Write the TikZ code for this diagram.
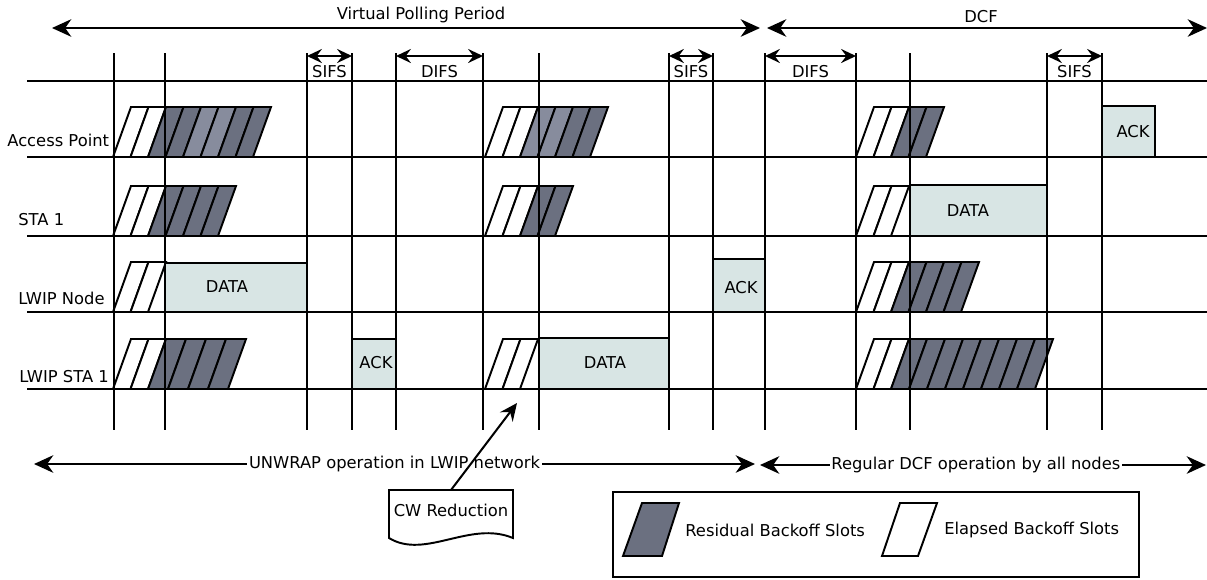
\documentclass[tikz,border=0pt]{standalone}
\usepackage{fontspec}
\setmainfont{DejaVu Sans}
\usetikzlibrary{arrows.meta}
\definecolor{resdark}{HTML}{6B7080}
\definecolor{reslight}{HTML}{878C9D}
\definecolor{pktfill}{HTML}{D8E5E4}

\tikzset{
  gridline/.style={line width=1.15pt},
  slot/.style={draw, line width=1.1pt, line join=miter},
  pkt/.style={draw, line width=1.15pt, fill=pktfill},
  period/.style={line width=1.15pt,
    {Stealth[length=11pt,width=10pt,inset=3.5pt]}-{Stealth[length=11pt,width=10pt,inset=3.5pt]}},
  gap/.style={line width=1.15pt,
    {Stealth[length=8.5pt,width=8pt,inset=3pt]}-{Stealth[length=8.5pt,width=8pt,inset=3pt]}},
  pointer/.style={line width=1.15pt, -{Stealth[length=10pt,width=9pt,inset=3.5pt]}},
  rowlabel/.style={anchor=west, inner sep=0pt},
  online/.style={fill=white, inner sep=1pt}
}

% elapsed (white) and residual (grey) backoff slots
\newcommand{\wslots}[3]{%
  \foreach \i in {1,...,#3}
    \draw[slot, fill=white] ({#1+(\i-1)*17.5},#2) -- ++(18,-50) -- ++(17.5,0) -- ++(-18,50) -- cycle;
}
\newcommand{\gslots}[4]{%
  \foreach \c [count=\j] in {#4}
    \draw[slot, fill=\c] ({#1+(\j-1)*#3},#2) -- ++(18,-50) -- ++(#3,0) -- ++(-18,50) -- cycle;
}

\begin{document}
\begin{tikzpicture}[x=0.02cm, y=-0.02cm,
  every node/.style={font=\fontsize{9.3}{11}\selectfont, inner sep=1pt}]
\useasboundingbox (0,0) rectangle (1207,579);

% Access Point
\wslots{113}{157}{2}
\gslots{148}{157}{17.5}{resdark,resdark,reslight,reslight,resdark,resdark}
\wslots{485}{157}{2}
\gslots{520}{157}{17.5}{reslight,reslight,resdark,resdark}
\wslots{856}{157}{2}
\gslots{891}{157}{17.5}{resdark,resdark}
\draw[pkt] (1102,106) rectangle (1155,157);
\node (apack) at (1133,132) {ACK};

% STA 1
\wslots{113}{236}{2}
\gslots{148}{236}{17.5}{resdark,resdark,resdark,resdark}
\wslots{485}{236}{2}
\gslots{520}{236}{17.5}{resdark,resdark}
\wslots{856}{236}{2}
\draw[pkt] (910,185) rectangle (1047,236);
\node (stadata) at (968,211) {DATA};

% LWIP Node
\wslots{113}{312}{2}
\draw[pkt] (165,263) rectangle (307,312);
\node (lndata) at (227,287) {DATA};
\draw[pkt] (713,259) rectangle (765,312);
\node (lnack) at (741,288) {ACK};
\wslots{856}{312}{2}
\gslots{891}{312}{17.5}{resdark,resdark,resdark,resdark}

% LWIP STA 1
\wslots{113}{389}{2}
\gslots{148}{389}{20}{resdark,resdark,resdark,resdark}
\draw[pkt] (352,339) rectangle (396,389);
\node (lsack) at (376,363) {ACK};
\wslots{485}{389}{2}
\draw[pkt] (539,338) rectangle (669,389);
\node (lsdata) at (605,363) {DATA};
\wslots{856}{389}{2}
\gslots{891}{389}{18}{resdark,resdark,resdark,resdark,resdark,resdark,resdark,resdark}

% time grid
\foreach \y in {81,157,236,312,389}
  \draw[gridline] (27,\y) -- (1207,\y);
\foreach \x in {114,165,307,352,396,483,539,669,713,765,856,910,1047,1102}
  \draw[gridline] (\x,53) -- (\x,430);

% row labels
\node[rowlabel] (aplbl) at (7,140) {Access Point};
\node[rowlabel] (stalbl) at (18,220) {STA 1};
\node[rowlabel] (lnlbl) at (18,298) {LWIP Node};
\node[rowlabel] (lslbl) at (19,377) {LWIP STA 1};

% SIFS / DIFS intervals
\foreach \a/\b/\t [count=\k] in {307/352/SIFS, 396/483/DIFS, 669/713/SIFS, 765/856/DIFS, 1047/1102/SIFS}{
  \coordinate (g\k l) at (\a,56);
  \coordinate (g\k r) at (\b,56);
  \draw[gap] (g\k l) -- (g\k r);
  \node (g\k) at ({(\a+\b)/2},72) {\t};
}

% periods
\coordinate (vpl) at (52,28);
\coordinate (vpr) at (760,28);
\draw[period] (vpl) -- (vpr);
\node (vpp) at (421,15) {Virtual Polling Period};
\coordinate (dcfl) at (767,28);
\coordinate (dcfr) at (1207,28);
\draw[period] (dcfl) -- (dcfr);
\node (dcf) at (981,17) {DCF};

\coordinate (uwl) at (34,464);
\coordinate (uwr) at (755,464);
\draw[period] (uwl) -- node[online] (unwrap) {UNWRAP operation in LWIP network} (uwr);
\coordinate (rgl) at (760,465);
\coordinate (rgr) at (1206,465);
\draw[period] (rgl) -- node[online, pos=0.484] (regular) {Regular DCF operation by all nodes} (rgr);

% CW reduction note
\draw[line width=1.1pt, fill=white] (389,490) -- (513,490) -- (513,538)
  .. controls (470,520) and (425,560) .. (389,538) -- cycle;
\node (cw) at (451,510) {CW Reduction};
\coordinate (cwtop) at (451,490);
\coordinate (cwtip) at (517,403);
\draw[pointer] (cwtop) -- (cwtip);

% legend
\draw[line width=1.15pt] (613,492) rectangle (1139,577);
\draw[slot, fill=resdark] (623,556) -- (642,503) -- (679,503) -- (662,556) -- cycle;
\node[rowlabel] (resid) at (685,530) {Residual Backoff Slots};
\draw[slot, fill=white] (882,556) -- (900,503) -- (937,503) -- (918,556) -- cycle;
\node[rowlabel] (elaps) at (944,530) {Elapsed Backoff Slots};
\end{tikzpicture}
\end{document}
